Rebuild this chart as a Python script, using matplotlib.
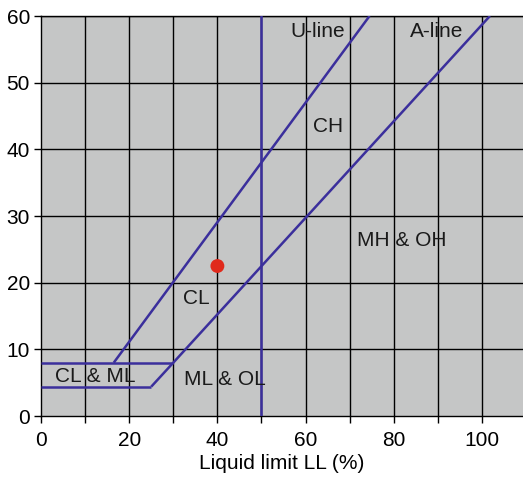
import matplotlib
matplotlib.use("Agg")
import matplotlib.pyplot as plt
import numpy as np

plt.rcParams['font.family'] = ['Liberation Sans', 'DejaVu Sans']

# Plasticity chart boundaries (liquid limit, plasticity index)
u_line_ll = [16.5, 74.5]
u_line_pi = [8.0, 60.0]
a_line_ll = [25.0, 30.0, 101.8]
a_line_pi = [4.4, 8.0, 60.0]
upper_band_ll = [0, 30]
upper_band_pi = [8.0, 8.0]
lower_band_ll = [0, 25]
lower_band_pi = [4.4, 4.4]
ll_boundary = 50

# Sample point
sample_ll = [40]
sample_pi = [22.5]

# Zone labels
zone_names = ["U-line", "A-line", "CH", "MH & OH", "CL", "CL & ML", "ML & OL"]
zone_ll = [62.7, 89.8, 65.1, 81.9, 35.3, 12.2, 41.7]
zone_pi = [57.7, 57.7, 43.4, 26.3, 17.7, 6.0, 5.5]

xticks = [0, 20, 40, 60, 80, 100]
yticks = [0, 10, 20, 30, 40, 50, 60]

line_color = "#3b2f9c"
fs = 15

fig = plt.figure(figsize=(5.23, 4.79), dpi=100)
ax = fig.add_axes([41/523, 63/479, 482/523, 400/479])
ax.set_facecolor("#c5c6c6")
ax.set_xlim(0, 109.3)
ax.set_ylim(0, 60)

for gx in range(10, 110, 10):
    ax.axvline(gx, color="black", lw=1.0, zorder=1)
for gy in range(10, 70, 10):
    ax.axhline(gy, color="black", lw=1.0, zorder=1)

lw = 1.8
ax.plot(u_line_ll, u_line_pi, color=line_color, lw=lw, zorder=3, solid_capstyle='butt')
ax.plot(a_line_ll, a_line_pi, color=line_color, lw=lw, zorder=3, solid_capstyle='butt')
ax.plot(upper_band_ll, upper_band_pi, color=line_color, lw=lw, zorder=3, solid_capstyle='butt')
ax.plot(lower_band_ll, lower_band_pi, color=line_color, lw=lw, zorder=3, solid_capstyle='butt')
ax.axvline(ll_boundary, color=line_color, lw=lw, zorder=3)

ax.scatter(sample_ll, sample_pi, s=100, color="#e02a1c", zorder=4, edgecolors='none')

for name, zx, zy in zip(zone_names, zone_ll, zone_pi):
    ax.text(zx, zy, name, ha="center", va="center", fontsize=fs, color="#1a1a1a", zorder=5)

ax.set_xticks(np.arange(0, 110, 10), minor=True)
ax.set_xticks(xticks)
ax.set_xticklabels([str(t) for t in xticks])
ax.set_yticks(yticks)
ax.set_yticklabels([str(t) for t in yticks])
ax.tick_params(axis='both', which='both', direction='out', length=5, width=1, labelsize=fs, colors='black', pad=3)
ax.tick_params(axis='x', which='major', pad=6)

ax.spines["right"].set_visible(False)
for side in ["left", "bottom", "top"]:
    ax.spines[side].set_color("black")
    ax.spines[side].set_linewidth(1.0)

ax.set_xlabel("Liquid limit LL (%)", fontsize=fs, labelpad=3)

fig.savefig("out.png", dpi=100)
